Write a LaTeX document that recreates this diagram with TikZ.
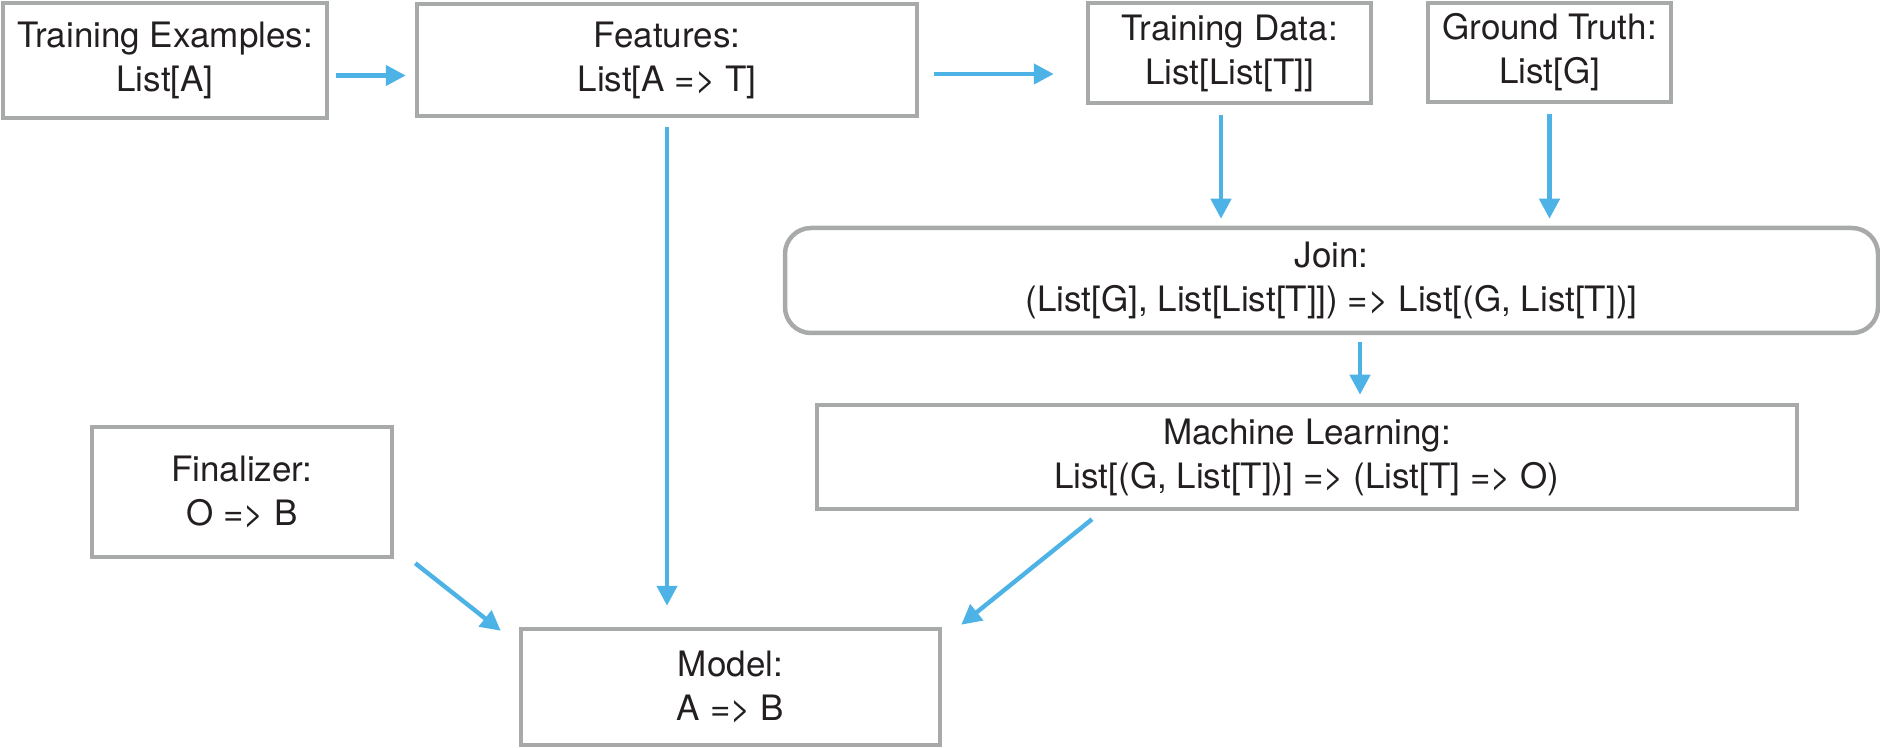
\documentclass[tikz,border=0pt]{standalone}
\usepackage{fontspec}
\setmainfont{TeX Gyre Heros}
\usetikzlibrary{arrows.meta}
\definecolor{boxgray}{HTML}{A8AAA9}
\definecolor{flowblue}{HTML}{4DB3E6}
\definecolor{inkblack}{HTML}{231F20}
\begin{document}
\begin{tikzpicture}[x=0.5pt,y=-0.5pt,
    box/.style={draw=boxgray,line width=2.25pt,align=center,inner sep=0pt,text=inkblack,
        font=\fontsize{17.5}{22}\selectfont},
    flow/.style={-{Triangle[length=10pt,width=10pt]},draw=flowblue,line width=2.2pt}]
    \useasboundingbox (0,0) rectangle (1880,748);
    \node[box,minimum width=162pt,minimum height=57.5pt] (ex) at (165,60.5)
    {Training Examples:\\List[A]};
    \node[box,minimum width=250pt,minimum height=56pt] (feat) at (667,60)
    {Features:\\List[A => T]};
    \node[box,minimum width=141.5pt,minimum height=50pt] (tdata) at (1229.5,53)
    {Training Data:\\List[List[T]]};
    \node[box,minimum width=121.5pt,minimum height=49.5pt] (gtruth) at (1549.5,52.5)
    {Ground Truth:\\List[G]};
    \node[box,rounded corners=13pt,minimum width=546.5pt,minimum height=52.5pt] (join) at (1331.5,280.5)
    {Join:\\(List[G], List[List[T]]) => List[(G, List[T])]};
    \node[box,minimum width=490pt,minimum height=52pt] (ml) at (1307,457)
    {Machine Learning:\\List[(G, List[T])] => (List[T] => O)};
    \node[box,minimum width=150pt,minimum height=65pt] (fin) at (242,492)
    {Finalizer:\\O => B};
    \node[box,minimum width=209.5pt,minimum height=58pt] (model) at (730.5,687)
    {Model:\\A => B};
    \draw[flow,shorten <=3.5pt,shorten >=4.5pt] ([yshift=-7.5pt]ex.east) -- ([yshift=-7.5pt]ex.east -| feat.west);
    \draw[flow,shorten <=7.5pt,shorten >=16pt] ([yshift=-7pt]feat.east) -- ([yshift=-7pt]feat.east -| tdata.west);
    \draw[flow,shorten <=5pt,shorten >=3.5pt] ([xshift=-4.25pt]tdata.south) -- ([xshift=-4.25pt]tdata.south |- join.north);
    \draw[flow,shorten <=5pt,shorten >=3.5pt] (gtruth.south) -- (gtruth.south |- join.north);
    \draw[flow,shorten <=3.5pt,shorten >=4pt] ([xshift=14.25pt]join.south) -- ([xshift=14.25pt]join.south |- ml.north);
    \draw[flow,shorten <=4.5pt,shorten >=10.5pt] (feat.south) -- (feat.south |- model.north);
    \draw[flow] ([xshift=10.5pt,yshift=-2pt]fin.south east) -- ([xshift=-9pt,yshift=-2pt]model.north west);
    \draw[flow] ([xshift=-107.5pt,yshift=-4pt]ml.south) -- ([xshift=9.5pt,yshift=1pt]model.north east);
\end{tikzpicture}
\end{document}
